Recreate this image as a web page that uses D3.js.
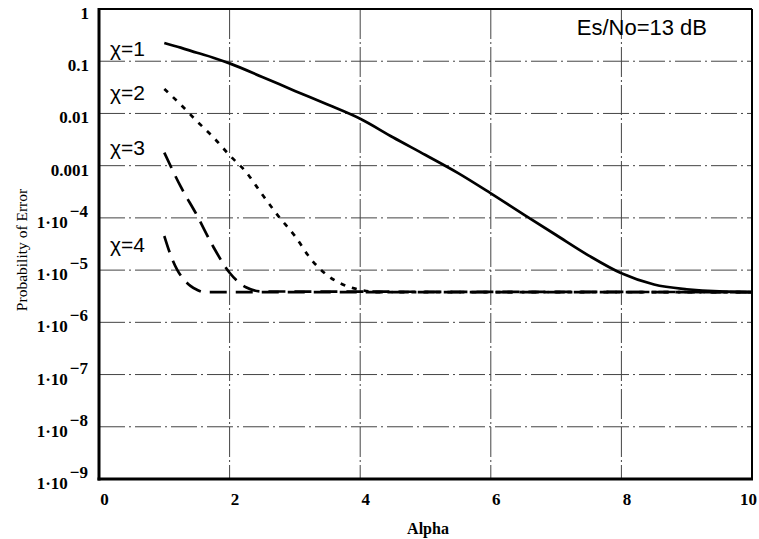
<!DOCTYPE html>
<html>
<head>
<meta charset="utf-8">
<script src="https://cdn.jsdelivr.net/npm/d3@7"></script>
<style>
  html, body { margin: 0; padding: 0; background: #fff; }
  svg { display: block; }
</style>
</head>
<body>
<svg id="chart" width="759" height="539"></svg>
<script>
// Alpha sample points and error probabilities for each chi
const alpha1 = [1.0, 1.25, 1.5, 1.75, 2.0, 2.5, 3.0, 3.5, 4.0, 4.5, 5.0, 5.5, 6.0, 6.5, 7.0, 7.5, 8.0, 8.5, 9.0, 9.5, 10];
const perr1  = [0.224, 0.182, 0.145, 0.117, 0.091, 0.05, 0.027, 0.0148, 0.0079, 0.0035, 0.0016, 7.2e-4, 2.95e-4, 1.17e-4, 4.7e-5, 1.9e-5, 8.7e-6, 5.3e-6, 4.3e-6, 3.9e-6, 3.8e-6];

const alpha2 = [1.0, 1.25, 1.5, 1.75, 2.0, 2.25, 2.5, 2.75, 3.0, 3.25, 3.5, 3.75, 4.0, 4.25, 10];
const perr2  = [0.0295, 0.0148, 0.0071, 0.0035, 0.00158, 7.6e-4, 2.8e-4, 1.07e-4, 4.5e-5, 1.6e-5, 7.9e-6, 5.2e-6, 4.2e-6, 3.8e-6, 3.8e-6];

const alpha3 = [1.0, 1.25, 1.5, 1.75, 2.0, 2.25, 2.5, 10];
const perr3  = [1.78e-3, 4.0e-4, 1.12e-4, 2.8e-5, 8.9e-6, 4.7e-6, 3.9e-6, 3.8e-6];

const alpha4 = [1.0, 1.1, 1.2, 1.3, 1.4, 1.5, 1.6, 10];
const perr4  = [4.5e-5, 1.9e-5, 1.0e-5, 6.6e-6, 5.0e-6, 4.2e-6, 3.8e-6, 3.8e-6];

const chiLabels = ["χ=1", "χ=2", "χ=3", "χ=4"];
const xTicks = [0, 2, 4, 6, 8, 10];
const yTicks = [1, 0.1, 0.01, 0.001, 1e-4, 1e-5, 1e-6, 1e-7, 1e-8, 1e-9];
const yTickText = ["1", "0.1", "0.01", "0.001", "−4", "−5", "−6", "−7", "−8", "−9"];
const noteText = "Es/No=13 dB";

const svg = d3.select("#chart");
const mLeft = 99, mRight = 752, mTop = 9, mBottom = 479;
const serif = "'Liberation Serif', 'Times New Roman', serif";
const sans = "'Liberation Sans', Arial, sans-serif";

const x = d3.scaleLinear().domain([0, 10]).range([mLeft, mRight]);
const y = d3.scaleLog().domain([1e-9, 1]).range([mBottom, mTop]);

// grid
const grid = svg.append("g").attr("stroke", "#444").attr("stroke-width", 1).attr("fill", "none");
yTicks.slice(1, -1).forEach(v => {
  grid.append("line")
    .attr("x1", mLeft).attr("x2", mRight)
    .attr("y1", y(v)).attr("y2", y(v))
    .attr("stroke-dasharray", "26,4,2,4");
});
xTicks.slice(1, -1).forEach(v => {
  grid.append("line")
    .attr("x1", x(v)).attr("x2", x(v))
    .attr("y1", mTop).attr("y2", mBottom)
    .attr("stroke-dasharray", "30,3,2,3");
});

// curves
const series = [
  { a: alpha1, p: perr1, dash: null },
  { a: alpha2, p: perr2, dash: "5,7" },
  { a: alpha3, p: perr3, dash: "17,9" },
  { a: alpha4, p: perr4, dash: "17,9" }
];
const line = d3.line()
  .x(d => x(d[0]))
  .y(d => y(d[1]))
  .curve(d3.curveMonotoneX);

series.forEach(s => {
  svg.append("path")
    .datum(s.a.map((v, i) => [v, s.p[i]]))
    .attr("d", line)
    .attr("fill", "none")
    .attr("stroke", "#000")
    .attr("stroke-width", 2.7)
    .attr("stroke-dasharray", s.dash);
});

// frame
const frame = svg.append("g").attr("stroke", "#000").attr("fill", "none");
frame.append("line").attr("x1", mLeft).attr("x2", mRight).attr("y1", mTop).attr("y2", mTop).attr("stroke-width", 2);
frame.append("line").attr("x1", mRight).attr("x2", mRight).attr("y1", mTop).attr("y2", mBottom).attr("stroke-width", 2);
frame.append("line").attr("x1", mLeft).attr("x2", mLeft).attr("y1", mTop - 1).attr("y2", mBottom + 1.5).attr("stroke-width", 3);
frame.append("line").attr("x1", mLeft - 1.5).attr("x2", mRight + 1).attr("y1", mBottom).attr("y2", mBottom).attr("stroke-width", 3);

// x tick labels
const xAxis = d3.axisBottom(x).tickValues(xTicks).tickSize(0).tickPadding(0).tickFormat(d3.format("d"));
const gx = svg.append("g").attr("transform", `translate(0,${mBottom})`).call(xAxis);
gx.select(".domain").remove();
gx.selectAll("text")
  .attr("y", 26).attr("dy", null)
  .attr("dx", d => d === 10 ? -4 : 5)
  .attr("font-family", serif)
  .attr("font-weight", "bold")
  .attr("font-size", 17)
  .attr("fill", "#000");

// y tick labels
const yl = svg.append("g")
  .attr("font-family", serif)
  .attr("font-weight", "bold")
  .attr("font-size", 17)
  .attr("fill", "#000");
yTicks.forEach((v, i) => {
  const t = yl.append("text").attr("y", y(v) + 10).attr("text-anchor", "end");
  if (v >= 0.001) {
    t.attr("x", 89).text(yTickText[i]);
  } else {
    t.attr("x", 88);
    t.append("tspan").text("1·10");
    t.append("tspan").attr("dy", -11).attr("dx", 2).text(yTickText[i]);
  }
});

// axis titles
svg.append("text")
  .attr("x", 428).attr("y", 534)
  .attr("text-anchor", "middle")
  .attr("font-family", serif)
  .attr("font-weight", "bold")
  .attr("font-size", 16)
  .text("Alpha");
svg.append("text")
  .attr("transform", "translate(27,250) rotate(-90)")
  .attr("text-anchor", "middle")
  .attr("font-family", serif)
  .attr("font-size", 15.5)
  .text("Probability of Error");

// curve labels
const chiY = [56, 100, 155, 252];
chiLabels.forEach((s, i) => {
  svg.append("text")
    .attr("x", 110).attr("y", chiY[i])
    .attr("font-family", sans)
    .attr("font-size", 21)
    .text(s);
});

svg.append("text")
  .attr("x", 707).attr("y", 35)
  .attr("text-anchor", "end")
  .attr("font-family", sans)
  .attr("font-size", 22)
  .text(noteText);
</script>
</body>
</html>
